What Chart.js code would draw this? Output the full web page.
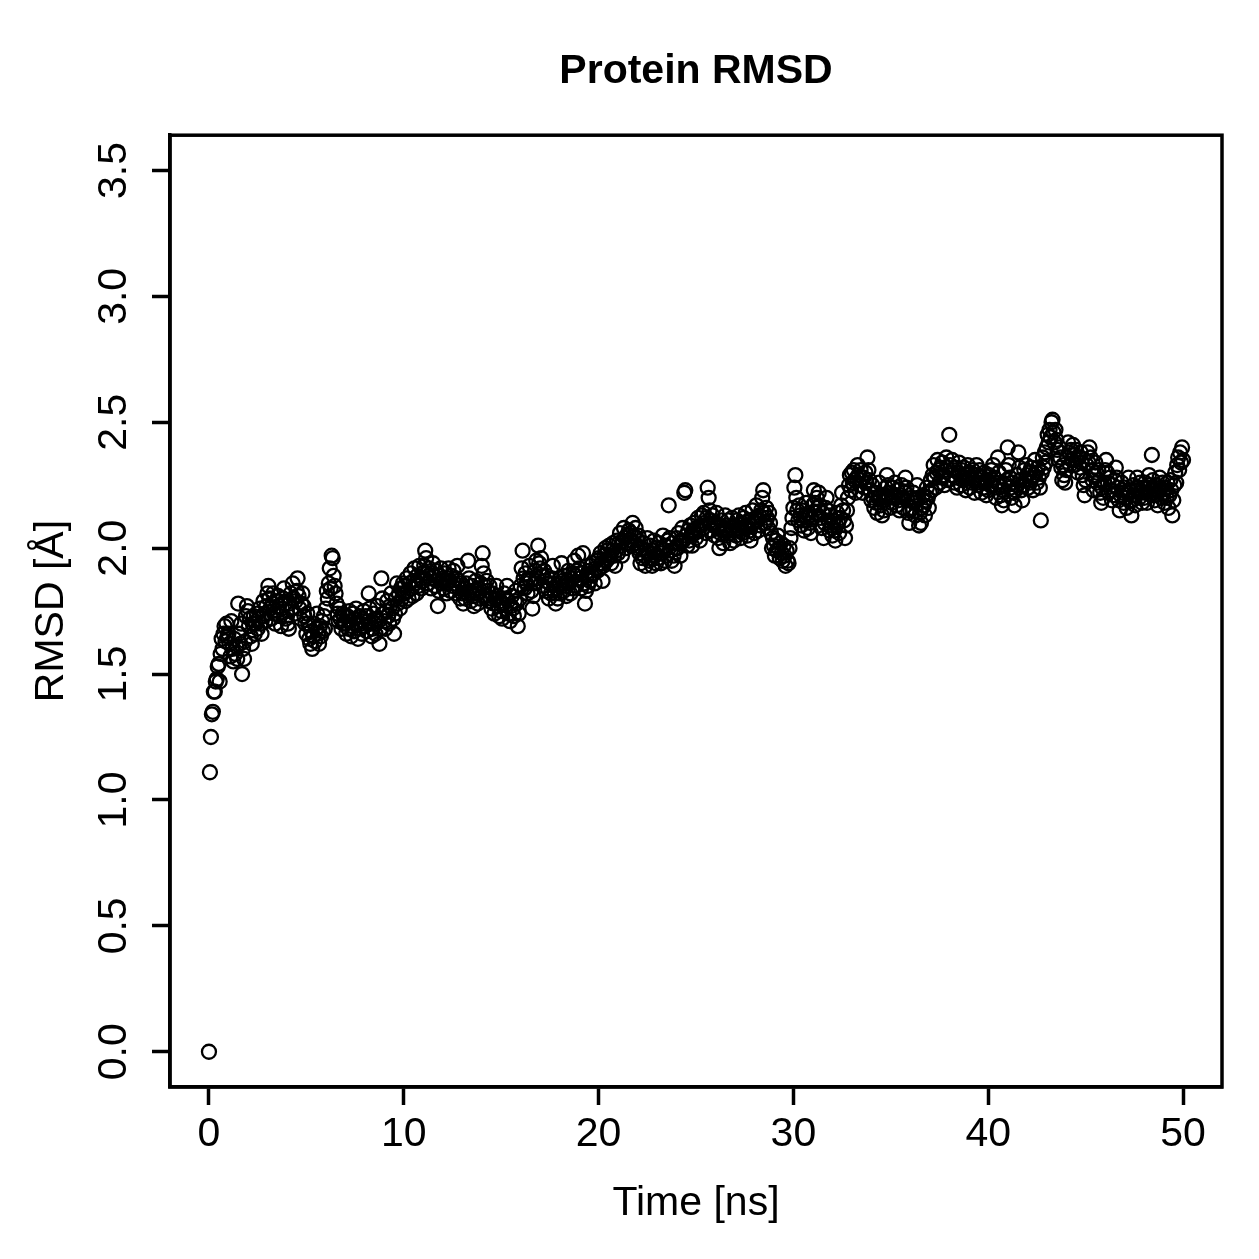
<!DOCTYPE html>
<html>
<head>
<meta charset="utf-8">
<title>Protein RMSD</title>
<script src="https://cdn.jsdelivr.net/npm/chart.js@4/dist/chart.umd.min.js"></script>
<style>
  html, body { margin: 0; padding: 0; background: #fff; }
  #wrap { width: 1259px; height: 1259px; }
</style>
</head>
<body>
<div id="wrap"><canvas id="rmsdChart" width="1259" height="1259"></canvas></div>
<script>
// frames are written every 0.05 ns
const timeStep = 0.05;

// RMSD [A] per frame, one row per ns (20 frames), last value is t = 50 ns
const rmsd = [
  0.00, 1.11, 1.25, 1.34, 1.35, 1.43, 1.43, 1.47, 1.48, 1.53, 1.54, 1.47, 1.58, 1.64, 1.60, 1.66, 1.69, 1.63, 1.70, 1.65,
  1.66, 1.62, 1.57, 1.71, 1.60, 1.55, 1.64, 1.58, 1.61, 1.56, 1.78, 1.66, 1.62, 1.70, 1.50, 1.60, 1.56, 1.63, 1.73, 1.77,
  1.75, 1.69, 1.72, 1.65, 1.62, 1.70, 1.73, 1.66, 1.70, 1.74, 1.68, 1.72, 1.76, 1.70, 1.66, 1.73, 1.79, 1.74, 1.71, 1.77,
  1.82, 1.85, 1.80, 1.76, 1.72, 1.78, 1.82, 1.74, 1.70, 1.79, 1.75, 1.81, 1.77, 1.73, 1.69, 1.76, 1.80, 1.84, 1.78, 1.72,
  1.75, 1.70, 1.68, 1.78, 1.82, 1.76, 1.86, 1.80, 1.74, 1.79, 1.83, 1.88, 1.81, 1.76, 1.72, 1.78, 1.82, 1.77, 1.73, 1.70,
  1.66, 1.74, 1.70, 1.64, 1.62, 1.67, 1.60, 1.65, 1.70, 1.63, 1.68, 1.74, 1.66, 1.62, 1.69, 1.65, 1.71, 1.67, 1.73, 1.68,
  1.76, 1.83, 1.80, 1.86, 1.92, 1.84, 1.97, 1.96, 1.89, 1.85, 1.82, 1.78, 1.74, 1.71, 1.76, 1.72, 1.68, 1.74, 1.70, 1.73,
  1.70, 1.66, 1.73, 1.68, 1.75, 1.71, 1.65, 1.69, 1.74, 1.67, 1.72, 1.76, 1.70, 1.64, 1.68, 1.73, 1.70, 1.66, 1.71, 1.75,
  1.69, 1.73, 1.67, 1.71, 1.82, 1.76, 1.70, 1.65, 1.68, 1.74, 1.70, 1.66, 1.72, 1.77, 1.71, 1.62, 1.68, 1.88, 1.80, 1.74,
  1.71, 1.68, 1.75, 1.79, 1.73, 1.70, 1.77, 1.82, 1.76, 1.72, 1.66, 1.74, 1.80, 1.86, 1.78, 1.82, 1.76, 1.84, 1.80, 1.86,
  1.82, 1.85, 1.79, 1.88, 1.83, 1.80, 1.86, 1.90, 1.84, 1.81, 1.87, 1.92, 1.86, 1.82, 1.89, 1.85, 1.93, 1.88, 1.84, 1.90,
  1.87, 1.93, 1.99, 1.96, 1.90, 1.86, 1.92, 1.88, 1.84, 1.90, 1.94, 1.89, 1.85, 1.91, 1.87, 1.77, 1.83, 1.89, 1.92, 1.86,
  1.88, 1.84, 1.90, 1.86, 1.82, 1.88, 1.92, 1.87, 1.83, 1.89, 1.85, 1.91, 1.86, 1.82, 1.88, 1.93, 1.87, 1.84, 1.80, 1.86,
  1.82, 1.78, 1.84, 1.80, 1.86, 1.82, 1.95, 1.88, 1.83, 1.79, 1.85, 1.81, 1.77, 1.83, 1.87, 1.82, 1.78, 1.84, 1.80, 1.86,
  1.93, 1.98, 1.90, 1.85, 1.81, 1.87, 1.83, 1.79, 1.85, 1.80, 1.76, 1.82, 1.78, 1.74, 1.80, 1.85, 1.81, 1.77, 1.73, 1.79,
  1.75, 1.72, 1.78, 1.82, 1.76, 1.80, 1.85, 1.79, 1.74, 1.71, 1.77, 1.81, 1.76, 1.73, 1.79, 1.83, 1.78, 1.69, 1.74, 1.80,
  1.85, 1.92, 1.99, 1.88, 1.84, 1.90, 1.86, 1.82, 1.88, 1.93, 1.87, 1.83, 1.76, 1.81, 1.86, 1.91, 1.95, 1.88, 2.01, 1.94,
  1.92, 1.96, 1.89, 1.85, 1.91, 1.87, 1.83, 1.89, 1.84, 1.80, 1.86, 1.82, 1.88, 1.93, 1.86, 1.82, 1.78, 1.84, 1.80, 1.86,
  1.82, 1.88, 1.94, 1.87, 1.83, 1.89, 1.85, 1.81, 1.87, 1.91, 1.86, 1.82, 1.88, 1.84, 1.90, 1.95, 1.89, 1.85, 1.91, 1.97,
  1.92, 1.88, 1.84, 1.90, 1.98, 1.86, 1.78, 1.83, 1.89, 1.85, 1.91, 1.87, 1.93, 1.89, 1.94, 1.90, 1.86, 1.92, 1.95, 1.91,
  1.96, 1.92, 1.98, 1.94, 1.87, 1.93, 1.97, 2.00, 1.95, 1.99, 1.96, 2.01, 1.97, 1.94, 1.99, 2.02, 1.97, 1.93, 1.99, 2.03,
  1.98, 2.02, 2.06, 2.01, 1.97, 2.03, 2.08, 2.04, 2.00, 2.05, 2.02, 2.07, 2.03, 2.06, 2.01, 2.10, 2.05, 2.02, 2.08, 2.04,
  2.00, 2.05, 1.98, 1.94, 2.00, 1.96, 2.02, 1.97, 1.93, 1.99, 2.04, 1.98, 1.95, 2.01, 1.96, 1.93, 1.99, 2.03, 1.97, 1.94,
  2.00, 1.96, 2.02, 1.98, 1.94, 2.00, 2.05, 1.99, 1.95, 2.01, 1.97, 2.03, 2.17, 2.04, 1.99, 1.95, 2.02, 1.97, 1.93, 2.00,
  2.04, 2.00, 2.06, 2.02, 1.97, 2.03, 2.08, 2.03, 2.22, 2.23, 2.05, 2.01, 2.07, 2.03, 2.09, 2.05, 2.01, 2.07, 2.10, 2.06,
  2.04, 2.08, 2.12, 2.07, 2.03, 2.09, 2.13, 2.08, 2.14, 2.10, 2.06, 2.12, 2.24, 2.20, 2.15, 2.11, 2.07, 2.13, 2.09, 2.05,
  2.10, 2.14, 2.08, 2.04, 2.00, 2.06, 2.11, 2.07, 2.02, 2.08, 2.13, 2.09, 2.05, 2.11, 2.06, 2.02, 2.08, 2.12, 2.07, 2.03,
  2.09, 2.05, 2.11, 2.07, 2.13, 2.08, 2.04, 2.10, 2.06, 2.12, 2.08, 2.14, 2.09, 2.05, 2.11, 2.07, 2.03, 2.09, 2.15, 2.10,
  2.06, 2.12, 2.17, 2.11, 2.07, 2.13, 2.09, 2.15, 2.20, 2.23, 2.14, 2.10, 2.16, 2.12, 2.08, 2.14, 2.10, 2.06, 2.00, 2.04,
  2.01, 1.97, 2.03, 1.99, 2.05, 2.00, 1.96, 2.02, 1.98, 1.95, 2.01, 1.97, 1.93, 1.99, 1.95, 1.94, 2.00, 2.04, 2.08, 2.12,
  2.16, 2.24, 2.29, 2.20, 2.15, 2.11, 2.17, 2.13, 2.09, 2.15, 2.11, 2.07, 2.13, 2.18, 2.12, 2.08, 2.14, 2.10, 2.06, 2.12,
  2.17, 2.23, 2.18, 2.14, 2.20, 2.16, 2.22, 2.17, 2.12, 2.08, 2.14, 2.04, 2.10, 2.16, 2.20, 2.15, 2.11, 2.07, 2.13, 2.09,
  2.05, 2.11, 2.07, 2.03, 2.09, 2.14, 2.10, 2.06, 2.12, 2.17, 2.22, 2.15, 2.11, 2.04, 2.09, 2.15, 2.20, 2.25, 2.29, 2.23,
  2.30, 2.26, 2.31, 2.27, 2.22, 2.28, 2.33, 2.29, 2.25, 2.31, 2.27, 2.22, 2.28, 2.24, 2.30, 2.26, 2.36, 2.31, 2.27, 2.23,
  2.19, 2.25, 2.20, 2.16, 2.22, 2.18, 2.14, 2.20, 2.26, 2.21, 2.17, 2.13, 2.19, 2.15, 2.21, 2.24, 2.29, 2.25, 2.20, 2.16,
  2.22, 2.18, 2.24, 2.20, 2.26, 2.21, 2.17, 2.23, 2.19, 2.15, 2.21, 2.25, 2.20, 2.16, 2.22, 2.28, 2.24, 2.19, 2.14, 2.10,
  2.15, 2.20, 2.16, 2.22, 2.18, 2.13, 2.19, 2.25, 2.20, 2.09, 2.14, 2.10, 2.16, 2.21, 2.17, 2.13, 2.19, 2.24, 2.20, 2.16,
  2.22, 2.27, 2.23, 2.29, 2.33, 2.28, 2.24, 2.30, 2.35, 2.31, 2.26, 2.32, 2.28, 2.34, 2.29, 2.25, 2.31, 2.36, 2.32, 2.27,
  2.45, 2.33, 2.29, 2.35, 2.31, 2.26, 2.32, 2.28, 2.24, 2.30, 2.34, 2.29, 2.25, 2.31, 2.27, 2.32, 2.28, 2.23, 2.29, 2.33,
  2.28, 2.24, 2.30, 2.26, 2.31, 2.27, 2.22, 2.28, 2.33, 2.29, 2.25, 2.31, 2.26, 2.22, 2.28, 2.24, 2.30, 2.26, 2.21, 2.27,
  2.23, 2.29, 2.25, 2.31, 2.27, 2.33, 2.28, 2.24, 2.20, 2.26, 2.36, 2.30, 2.25, 2.21, 2.17, 2.23, 2.19, 2.25, 2.31, 2.27,
  2.40, 2.33, 2.28, 2.24, 2.20, 2.26, 2.22, 2.17, 2.23, 2.29, 2.25, 2.38, 2.32, 2.27, 2.23, 2.19, 2.25, 2.31, 2.27, 2.33,
  2.29, 2.24, 2.30, 2.26, 2.32, 2.28, 2.23, 2.29, 2.35, 2.30, 2.26, 2.32, 2.28, 2.24, 2.11, 2.30, 2.36, 2.32, 2.38, 2.34,
  2.40, 2.45, 2.42, 2.47, 2.44, 2.50, 2.51, 2.46, 2.42, 2.47, 2.43, 2.39, 2.35, 2.40, 2.36, 2.32, 2.27, 2.33, 2.29, 2.26,
  2.31, 2.36, 2.42, 2.38, 2.33, 2.39, 2.35, 2.41, 2.37, 2.33, 2.39, 2.35, 2.30, 2.36, 2.32, 2.38, 2.34, 2.29, 2.25, 2.21,
  2.27, 2.33, 2.38, 2.34, 2.40, 2.36, 2.31, 2.27, 2.23, 2.29, 2.34, 2.30, 2.26, 2.31, 2.27, 2.22, 2.18, 2.24, 2.20, 2.26,
  2.31, 2.35, 2.30, 2.26, 2.22, 2.28, 2.23, 2.19, 2.25, 2.21, 2.27, 2.32, 2.28, 2.24, 2.19, 2.15, 2.21, 2.26, 2.22, 2.18,
  2.24, 2.20, 2.16, 2.22, 2.28, 2.23, 2.19, 2.13, 2.19, 2.25, 2.21, 2.17, 2.23, 2.28, 2.24, 2.20, 2.26, 2.22, 2.18, 2.24,
  2.20, 2.26, 2.22, 2.18, 2.24, 2.29, 2.25, 2.21, 2.37, 2.27, 2.23, 2.19, 2.25, 2.21, 2.17, 2.23, 2.28, 2.24, 2.20, 2.26,
  2.22, 2.18, 2.24, 2.20, 2.26, 2.16, 2.21, 2.27, 2.23, 2.13, 2.19, 2.25, 2.30, 2.26, 2.33, 2.36, 2.31, 2.38, 2.34, 2.40,
  2.35
];

const xTicks = [0, 10, 20, 30, 40, 50];
const yTicks = [0.0, 0.5, 1.0, 1.5, 2.0, 2.5, 3.0, 3.5];

const FONT = "'Liberation Sans', Arial, Helvetica, sans-serif";

// R-style closed box around the plot region
const boxPlugin = {
    id: 'plotBox',
    afterDraw(chart) {
        const a = chart.chartArea;
        const ctx = chart.ctx;
        ctx.save();
        ctx.strokeStyle = '#000';
        ctx.lineWidth = 3.5;
        ctx.strokeRect(a.left, a.top, a.right - a.left, a.bottom - a.top);
        ctx.restore();
    }
};

const points = rmsd.map((v, i) => ({ x: i * timeStep, y: v }));

new Chart(document.getElementById('rmsdChart'), {
    type: 'scatter',
    data: {
        datasets: [{
            data: points,
            pointStyle: 'circle',
            pointRadius: 7,
            pointHoverRadius: 7,
            borderWidth: 2.3,
            borderColor: '#000',
            backgroundColor: 'rgba(0,0,0,0)'
        }]
    },
    options: {
        responsive: false,
        animation: false,
        devicePixelRatio: 1,
        layout: { padding: { left: 0, top: 0, right: 37, bottom: 0 } },
        plugins: {
            legend: { display: false },
            tooltip: { enabled: false },
            title: {
                display: true,
                text: 'Protein RMSD',
                fullSize: false,
                color: '#000',
                font: { family: FONT, size: 41, weight: 'bold', lineHeight: 1.2 },
                padding: { top: 47, bottom: 39 }
            }
        },
        scales: {
            x: {
                type: 'linear',
                bounds: 'data',
                min: -2,
                max: 52,
                afterBuildTicks: (scale) => { scale.ticks = xTicks.map(v => ({ value: v })); },
                afterFit: (scale) => { scale.height = 172; },
                grid: { display: true, drawOnChartArea: false, drawTicks: true, tickLength: 18, tickWidth: 3.5, color: '#000' },
                border: { display: true, color: '#000', width: 3.5 },
                ticks: {
                    color: '#000',
                    font: { family: FONT, size: 41, lineHeight: 1.2 },
                    padding: 5,
                    maxRotation: 0,
                    callback: (v) => String(v)
                },
                title: {
                    display: true,
                    text: 'Time [ns]',
                    color: '#000',
                    font: { family: FONT, size: 41, lineHeight: 1.2 },
                    padding: { top: 0, bottom: 31 }
                }
            },
            y: {
                type: 'linear',
                bounds: 'data',
                min: -0.14,
                max: 3.64,
                afterBuildTicks: (scale) => { scale.ticks = yTicks.map(v => ({ value: v })); },
                afterFit: (scale) => { scale.width = 170; },
                grid: { display: true, drawOnChartArea: false, drawTicks: true, tickLength: 18, tickWidth: 3.5, color: '#000' },
                border: { display: true, color: '#000', width: 3.5 },
                ticks: {
                    color: '#000',
                    font: { family: FONT, size: 41, lineHeight: 1.2 },
                    padding: 9,
                    minRotation: 90,
                    maxRotation: 90,
                    crossAlign: 'center',
                    callback: (v) => Number(v).toFixed(1)
                },
                title: {
                    display: true,
                    text: 'RMSD [Å]',
                    color: '#000',
                    font: { family: FONT, size: 41, lineHeight: 1.2 },
                    padding: { top: 27, bottom: 0 }
                }
            }
        }
    },
    plugins: [boxPlugin]
});
</script>
</body>
</html>
